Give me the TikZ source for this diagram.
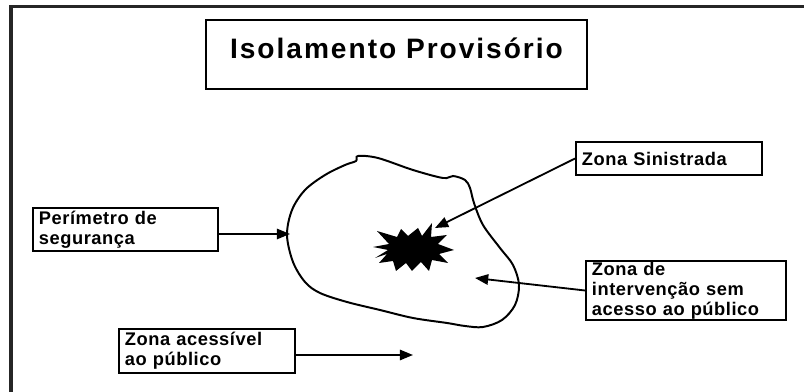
\documentclass[tikz,border=0pt]{standalone}
\usepackage{fontspec}
\newfontfamily\lblfont[LetterSpace=3]{Liberation Sans}
\newfontfamily\titlefont[LetterSpace=7]{Liberation Sans}
\usetikzlibrary{arrows.meta}

\begin{document}
\begin{tikzpicture}[x=0.025cm, y=-0.025cm,
    arr/.style={-{Triangle[length=3.3mm, width=2.6mm]}, line width=1.3pt},
    lbl/.style={draw, line width=1.3pt, align=left, inner xsep=0.15cm, inner ysep=0pt,
        font=\lblfont\bfseries\fontsize{13}{14.2}\selectfont},
    heading/.style={draw, line width=1pt, minimum width=9.525cm, minimum height=1.725cm,
        font=\titlefont\bfseries\fontsize{20}{24}\selectfont},
    zone/.style={line width=1.4pt},
]
\useasboundingbox (0,0) rectangle (804,392);

% frame
\draw[line width=2.5pt, black!85] (11,392) -- (11,6.5) -- (804,6.5);

% title
\node[heading, text height=14pt, text depth=8pt] (title) at (396.5,54.5) {Isolamento Provisório};

% labels
\node[lbl, text width=4.325cm, minimum height=1.075cm] (perim) at (125.5,229.5) {Perímetro de\\segurança};
\node[lbl, text width=4.35cm, minimum height=0.825cm] (sinis) at (669,158.5) {Zona Sinistrada};
\node[lbl, text width=4.1cm, minimum height=1.1cm] (acess) at (207,351) {Zona acessível\\ao público};
\node[lbl, text width=4.7cm, minimum height=1.475cm] (interv) at (686,290.5) {Zona de\\intervenção sem\\acesso ao público};

% isolated zone
\draw[zone] plot[smooth cycle, tension=0.55] coordinates {
    (287,235) (292,210) (305,190) (325,175) (345,165) (356,161) (358,156)
    (378,158) (413,170) (443,178) (453,176) (465,180) (470,188) (474,203)
    (483,225) (500,248) (513,265) (519,285) (515,305) (502,320) (483,327)
    (465,326) (447,323) (413,318) (380,310) (347,302) (320,293) (305,282) (293,262)};

% sinister
\fill (373,247) -- (389,244) -- (377,231) -- (397,237) -- (401,229) -- (408,236)
    -- (418,228) -- (422,236) -- (432,223) -- (431,237) -- (447,235) -- (438,244)
    -- (454,250) -- (439,254) -- (448,263) -- (432,260) -- (429,271) -- (421,262)
    -- (412,271) -- (406,263) -- (396,271) -- (393,261) -- (379,263) -- (387,254)
    -- (375,258) -- (388,250) -- cycle;

% connectors
\coordinate (perimPt) at (290,234);
\coordinate (sinisTip) at (435,228);
\coordinate (intervTip) at (475,278);
\coordinate (acessTip) at (413,355);
\draw[arr] (perim.east |- perimPt) -- (perimPt);
\draw[arr] (sinis.west) -- (sinisTip);
\draw[arr] (interv.west) -- (intervTip);
\draw[arr] (acess.east |- acessTip) -- (acessTip);

\end{tikzpicture}
\end{document}
